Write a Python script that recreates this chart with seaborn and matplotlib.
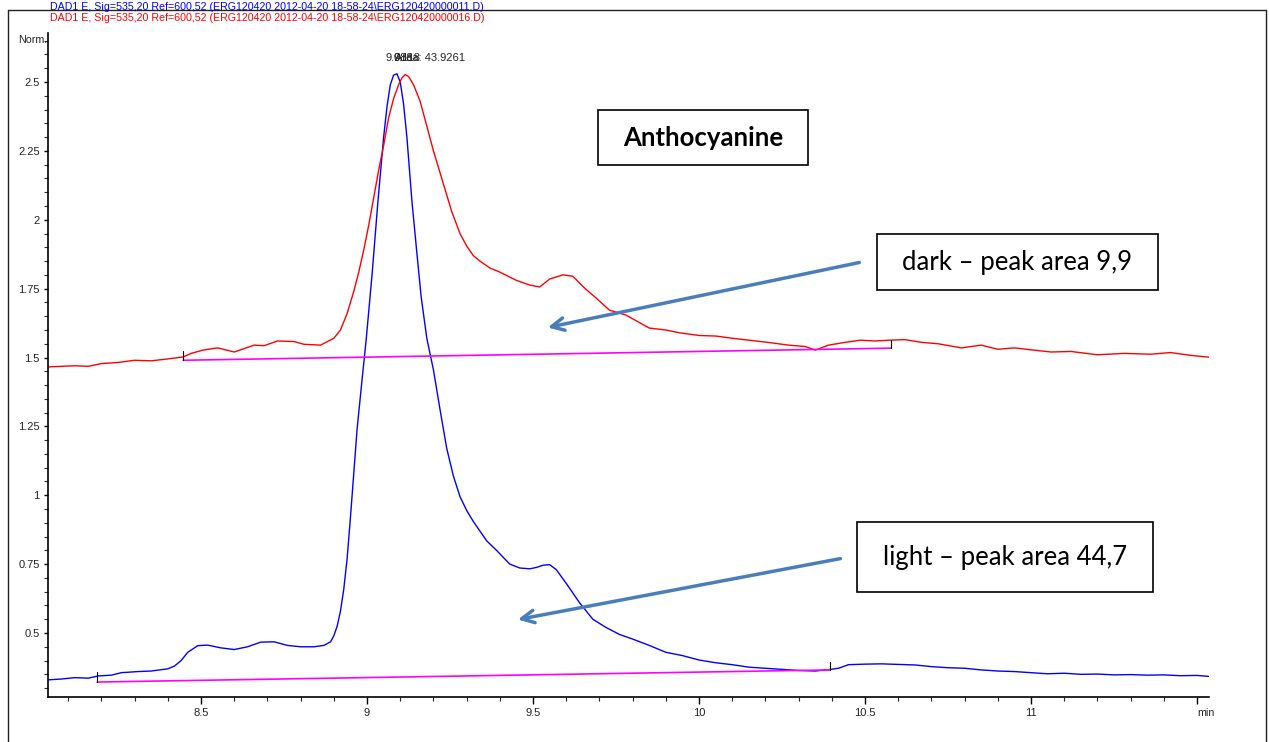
#chromatogram overlay - anthocyanine, dark vs light
import numpy as np
import pandas as pd
import matplotlib
matplotlib.use('Agg')
import matplotlib.pyplot as plt
from matplotlib.lines import Line2D
from matplotlib.patches import Rectangle
from matplotlib.ticker import MultipleLocator, FuncFormatter
import seaborn as sns

# light sample (blue trace)
blue_t = [8.04, 8.08, 8.12, 8.16, 8.19, 8.23, 8.26, 8.31, 8.35, 8.40, 8.42, 8.44, 8.46,
          8.49, 8.52, 8.56, 8.60, 8.64, 8.68, 8.72, 8.76, 8.80, 8.84, 8.87, 8.89, 8.90,
          8.91, 8.92, 8.93, 8.94, 8.95, 8.96, 8.97, 8.985, 8.997, 9.015, 9.033, 9.05,
          9.06, 9.07, 9.08, 9.09, 9.10, 9.11, 9.12, 9.135, 9.15, 9.163, 9.18, 9.20, 9.22,
          9.24, 9.26, 9.28, 9.30, 9.32, 9.34, 9.36, 9.39, 9.41, 9.43, 9.46, 9.49, 9.51,
          9.53, 9.55, 9.57, 9.60, 9.64, 9.68, 9.72, 9.76, 9.80, 9.85, 9.90, 9.95, 10.00,
          10.05, 10.10, 10.15, 10.20, 10.25, 10.30, 10.35, 10.39, 10.42, 10.45, 10.50,
          10.55, 10.60, 10.65, 10.70, 10.75, 10.80, 10.85, 10.90, 10.95, 11.00, 11.05,
          11.10, 11.15, 11.20, 11.25, 11.30, 11.35, 11.40, 11.45, 11.50, 11.54]
blue_v = [0.330, 0.333, 0.338, 0.336, 0.344, 0.347, 0.356, 0.360, 0.362, 0.370, 0.380,
          0.400, 0.430, 0.454, 0.456, 0.446, 0.440, 0.450, 0.467, 0.468, 0.455, 0.450,
          0.450, 0.455, 0.468, 0.490, 0.525, 0.580, 0.660, 0.770, 0.920, 1.080, 1.240,
          1.420, 1.560, 1.800, 2.070, 2.300, 2.410, 2.490, 2.525, 2.530, 2.500, 2.420,
          2.300, 2.070, 1.880, 1.720, 1.570, 1.455, 1.310, 1.170, 1.070, 0.995, 0.945,
          0.905, 0.870, 0.835, 0.800, 0.775, 0.750, 0.736, 0.733, 0.738, 0.746, 0.748,
          0.730, 0.680, 0.610, 0.550, 0.520, 0.495, 0.478, 0.455, 0.430, 0.418, 0.402,
          0.392, 0.385, 0.376, 0.372, 0.368, 0.364, 0.362, 0.367, 0.372, 0.385, 0.387,
          0.388, 0.386, 0.384, 0.378, 0.374, 0.372, 0.366, 0.362, 0.360, 0.356, 0.352,
          0.354, 0.350, 0.351, 0.348, 0.349, 0.347, 0.348, 0.345, 0.346, 0.342]

# dark sample (red trace)
red_t = [8.04, 8.08, 8.12, 8.16, 8.20, 8.25, 8.30, 8.35, 8.40, 8.446, 8.47, 8.506,
         8.55, 8.60, 8.66, 8.69, 8.73, 8.78, 8.81, 8.86, 8.90, 8.92, 8.94, 8.96, 8.975,
         8.99, 9.005, 9.02, 9.035, 9.05, 9.065, 9.08, 9.095, 9.105, 9.115, 9.125, 9.14,
         9.16, 9.18, 9.20, 9.22, 9.235, 9.255, 9.28, 9.30, 9.32, 9.34, 9.37, 9.40, 9.45,
         9.49, 9.52, 9.55, 9.59, 9.62, 9.657, 9.69, 9.73, 9.78, 9.85, 9.90, 9.94, 10.00,
         10.05, 10.10, 10.15, 10.20, 10.27, 10.32, 10.35, 10.39, 10.44, 10.485, 10.53,
         10.575, 10.62, 10.67, 10.72, 10.79, 10.85, 10.90, 10.95, 11.00, 11.06, 11.12,
         11.20, 11.28, 11.36, 11.42, 11.48, 11.545]
red_v = [1.466, 1.468, 1.470, 1.468, 1.478, 1.482, 1.490, 1.488, 1.495, 1.502, 1.515,
         1.527, 1.535, 1.520, 1.545, 1.543, 1.560, 1.558, 1.548, 1.545, 1.570, 1.600,
         1.660, 1.740, 1.810, 1.890, 1.980, 2.080, 2.180, 2.270, 2.370, 2.440, 2.490,
         2.515, 2.527, 2.520, 2.490, 2.430, 2.340, 2.250, 2.170, 2.110, 2.030, 1.950,
         1.905, 1.870, 1.850, 1.825, 1.810, 1.780, 1.763, 1.756, 1.785, 1.800, 1.795,
         1.750, 1.716, 1.672, 1.654, 1.607, 1.600, 1.590, 1.580, 1.578, 1.570, 1.563,
         1.556, 1.545, 1.540, 1.527, 1.545, 1.555, 1.563, 1.560, 1.563, 1.565, 1.555,
         1.550, 1.535, 1.545, 1.530, 1.535, 1.528, 1.520, 1.522, 1.510, 1.515, 1.512,
         1.518, 1.508, 1.500]

# integration baselines (start, end)
red_base_t = [8.446, 10.578]
red_base_v = [1.490, 1.534]
blue_base_t = [8.187, 10.395]
blue_base_v = [0.322, 0.366]

blue_header = r"DAD1 E, Sig=535,20 Ref=600,52 (ERG120420 2012-04-20 18-58-24\ERG120420000011.D)"
red_header = r"DAD1 E, Sig=535,20 Ref=600,52 (ERG120420 2012-04-20 18-58-24\ERG120420000016.D)"

W, H = 1269, 742
def fx(px):
    return px / W
def fy(py):
    return 1 - py / H

sns.set_style('ticks')
plt.rcParams['font.family'] = ['Liberation Sans', 'DejaVu Sans']

fig = plt.figure(figsize=(12.69, 7.42), dpi=100)
ax = fig.add_axes([fx(48), fy(697), fx(1209) - fx(48), fy(33) - fy(697)])

df_blue = pd.DataFrame({'t': blue_t, 'v': blue_v})
df_red = pd.DataFrame({'t': red_t, 'v': red_v})
sns.lineplot(data=df_blue, x='t', y='v', color='#0000ff', lw=1.0, ax=ax, estimator=None, sort=False)
sns.lineplot(data=df_red, x='t', y='v', color='#ff0000', lw=1.0, ax=ax, estimator=None, sort=False)

# baselines with small start / end marks
for bt, bv in [(red_base_t, red_base_v), (blue_base_t, blue_base_v)]:
    ax.plot(bt, bv, color='#ff00ff', lw=1.2)
    ax.plot([bt[0], bt[0]], [bv[0], bv[0] + 0.035], color='black', lw=0.8)
    ax.plot([bt[1], bt[1]], [bv[1], bv[1] + 0.03], color='black', lw=0.8)

ax.set_xlim(8.039, 11.536)
ax.set_ylim(0.2677, 2.678)
ax.set_xlabel('')
ax.set_ylabel('')
sns.despine(ax=ax)
for s in ['left', 'bottom']:
    ax.spines[s].set_linewidth(1.2)
    ax.spines[s].set_color('black')

ax.xaxis.set_minor_locator(MultipleLocator(0.1))
ax.yaxis.set_minor_locator(MultipleLocator(0.05))
ax.tick_params(axis='both', which='major', length=5, width=1, labelsize=8, pad=3,
               colors='black', labelcolor='#222222')
ax.tick_params(axis='both', which='minor', length=3, width=0.8)
ax.tick_params(axis='y', which='major', length=3)
ax.set_xticks([8.5, 9, 9.5, 10, 10.5, 11, 11.5])
ax.set_xticklabels(['8.5', '9', '9.5', '10', '10.5', '11', ''])
yt = [0.5, 0.75, 1, 1.25, 1.5, 1.75, 2, 2.25, 2.5]
ax.set_yticks(yt)
ax.set_yticklabels(['%g' % v for v in yt])

# peak labels (they overlap in the original printout too)
ax.text(9.055, 2.57, '9.088', fontsize=8, va='bottom', ha='left', color='#222222')
ax.text(9.08, 2.57, '9.118', fontsize=8, va='bottom', ha='left', color='#222222')
ax.text(9.085, 2.57, 'Area: 43.9261', fontsize=8, va='bottom', ha='left', color='#222222')

# arrows
acol = '#4a7ebb'
ax.annotate('', xy=(9.536, 1.607), xytext=(10.491, 1.847),
            arrowprops=dict(arrowstyle='->, head_length=0.9, head_width=0.45', color=acol, lw=2.5))
ax.annotate('', xy=(9.446, 0.547), xytext=(10.434, 0.772),
            arrowprops=dict(arrowstyle='->, head_length=0.9, head_width=0.45', color=acol, lw=2.5))

# text boxes
boxes = [((598, 110, 808, 165), 'Anthocyanine', 'bold'),
         ((877, 234, 1158, 290), 'dark – peak area 9,9', 'normal'),
         ((857, 522, 1153, 592), 'light – peak area 44,7', 'normal')]
for (x0, y0, x1, y1), txt, wt in boxes:
    fig.patches.append(Rectangle((fx(x0), fy(y1)), fx(x1) - fx(x0), fy(y0) - fy(y1),
                                 transform=fig.transFigure, fill=True, facecolor='white',
                                 edgecolor='black', lw=1.2))
    fig.text(fx((x0 + x1) / 2), fy((y0 + y1) / 2), txt, ha='center', va='center',
             fontsize=18.5, fontweight=wt, color='black', family=['Lato', 'DejaVu Sans'])

# header / axis captions
fig.text(fx(50), fy(7), blue_header, color='#0000ff', fontsize=7.7, va='center')
fig.text(fx(50), fy(18), red_header, color='#ff0000', fontsize=7.7, va='center')
fig.text(fx(47), fy(40), 'Norm.', fontsize=7.7, va='center', ha='right', color='#222222')
fig.text(fx(1206), fy(713), 'min', fontsize=7.7, va='center', ha='center', color='#222222')

# outer frame
fig.add_artist(Line2D([fx(8), fx(8)], [fy(10), 0], color='#222222', lw=1, transform=fig.transFigure))
fig.add_artist(Line2D([fx(8), fx(1266)], [fy(10), fy(10)], color='#222222', lw=1, transform=fig.transFigure))
fig.add_artist(Line2D([fx(1266), fx(1266)], [fy(10), 0], color='#222222', lw=1, transform=fig.transFigure))

fig.savefig('out.png', dpi=100)
